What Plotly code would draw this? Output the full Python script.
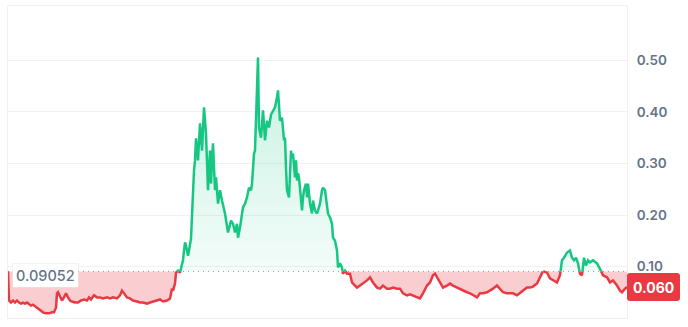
import plotly.graph_objects as go

# ---- data ----
days = [0, 1, 3, 5, 7, 9, 11, 13, 15, 17, 19, 21, 23, 25, 27, 29, 31, 33, 35, 38, 41, 44, 46, 48, 49, 50,
        52, 54, 56, 58, 60, 62, 64, 67, 70, 73, 76, 79, 81, 83, 86, 89, 92, 95, 99, 102, 105, 109, 112, 114,
        116, 119, 122, 125, 129, 132, 135, 139, 142, 145, 149, 152, 155, 159, 162, 164, 165, 167, 168, 170,
        172, 173, 175, 176, 177, 178, 179, 180, 181, 182, 183, 184, 185, 186, 187, 188, 190, 191, 192, 194,
        196, 198, 200, 202, 203, 204, 205, 207, 208, 210, 212, 214, 217, 220, 223, 225, 227, 229, 230, 232,
        235, 237, 239, 241, 243, 244, 246, 247, 248, 250, 251, 253, 255, 257, 259, 261, 263, 265, 267, 269,
        270, 272, 274, 276, 277, 278, 279, 281, 283, 284, 285, 287, 288, 289, 290, 291, 292, 294, 295, 296,
        298, 299, 300, 302, 304, 305, 307, 309, 310, 312, 314, 315, 317, 319, 320, 322, 324, 325, 327, 329,
        330, 332, 334, 335, 337, 339, 342, 344, 347, 349, 352, 355, 359, 362, 365, 369, 372, 375, 379, 382,
        385, 389, 392, 395, 399, 402, 405, 409, 412, 415, 419, 422, 425, 427, 429, 432, 435, 439, 442, 445,
        449, 452, 455, 459, 462, 465, 469, 472, 475, 479, 482, 485, 489, 492, 495, 499, 502, 505, 509, 512,
        515, 519, 522, 525, 529, 532, 535, 539, 542, 545, 549, 552, 554, 556, 559, 562, 564, 566, 568, 570,
        572, 574, 576, 578, 580, 582, 585, 589, 592, 595, 599, 602, 605, 609, 612, 614, 617, 619]
prices = [0.09052, 0.034, 0.030, 0.034, 0.030, 0.034, 0.030, 0.028, 0.030, 0.028, 0.030, 0.026, 0.024,
          0.026, 0.022, 0.020, 0.017, 0.013, 0.011, 0.009, 0.009, 0.011, 0.011, 0.020, 0.048, 0.050,
          0.040, 0.034, 0.040, 0.048, 0.040, 0.034, 0.032, 0.030, 0.030, 0.034, 0.036, 0.034, 0.040,
          0.036, 0.044, 0.040, 0.040, 0.038, 0.040, 0.038, 0.040, 0.038, 0.044, 0.053, 0.048, 0.040,
          0.038, 0.034, 0.032, 0.030, 0.030, 0.028, 0.030, 0.032, 0.034, 0.036, 0.032, 0.034, 0.038,
          0.057, 0.053, 0.067, 0.088, 0.092, 0.088, 0.096, 0.112, 0.131, 0.147, 0.141, 0.125, 0.121,
          0.131, 0.141, 0.154, 0.199, 0.257, 0.286, 0.306, 0.349, 0.306, 0.345, 0.378, 0.325, 0.409,
          0.358, 0.248, 0.325, 0.261, 0.306, 0.339, 0.248, 0.273, 0.222, 0.248, 0.228, 0.203, 0.166,
          0.189, 0.183, 0.166, 0.183, 0.156, 0.176, 0.215, 0.222, 0.234, 0.253, 0.248, 0.261, 0.319,
          0.325, 0.378, 0.506, 0.370, 0.350, 0.403, 0.345, 0.383, 0.370, 0.395, 0.403, 0.409, 0.428,
          0.442, 0.383, 0.389, 0.345, 0.350, 0.292, 0.248, 0.234, 0.325, 0.311, 0.319, 0.273, 0.306,
          0.267, 0.281, 0.273, 0.248, 0.209, 0.234, 0.248, 0.261, 0.234, 0.261, 0.222, 0.203, 0.228,
          0.209, 0.203, 0.209, 0.222, 0.248, 0.253, 0.248, 0.209, 0.203, 0.195, 0.183, 0.156, 0.150,
          0.131, 0.098, 0.106, 0.098, 0.086, 0.092, 0.086, 0.086, 0.069, 0.063, 0.059, 0.063, 0.067,
          0.073, 0.079, 0.069, 0.059, 0.057, 0.063, 0.057, 0.057, 0.059, 0.057, 0.057, 0.048, 0.044,
          0.046, 0.044, 0.040, 0.038, 0.048, 0.063, 0.069, 0.083, 0.086, 0.079, 0.067, 0.059, 0.063,
          0.067, 0.063, 0.059, 0.057, 0.053, 0.050, 0.048, 0.044, 0.040, 0.048, 0.048, 0.050, 0.053,
          0.057, 0.063, 0.057, 0.050, 0.048, 0.048, 0.048, 0.044, 0.048, 0.053, 0.059, 0.059, 0.061,
          0.067, 0.079, 0.091, 0.088, 0.077, 0.073, 0.069, 0.083, 0.112, 0.117, 0.127, 0.131, 0.117,
          0.112, 0.117, 0.106, 0.086, 0.083, 0.117, 0.102, 0.112, 0.108, 0.112, 0.106, 0.096, 0.083,
          0.079, 0.069, 0.073, 0.063, 0.053, 0.050, 0.057, 0.060]
base_price = 0.09052
base_text = "0.09052"
last_text = "0.060"
tick_vals = [0.1, 0.2, 0.3, 0.4, 0.5]
tick_text = ["0.10", "0.20", "0.30", "0.40", "0.50"]

GREEN = "#16c784"
RED = "#ea3943"

# insert baseline crossings so the colours switch exactly at the baseline
xd, yd = [days[0]], [prices[0]]
for i in range(1, len(days)):
    x0, y0, x1, y1 = days[i - 1], prices[i - 1], days[i], prices[i]
    if (y0 - base_price) * (y1 - base_price) < 0:
        t = (base_price - y0) / (y1 - y0)
        xd.append(x0 + t * (x1 - x0))
        yd.append(base_price)
    xd.append(x1)
    yd.append(y1)

up = [max(v, base_price) for v in yd]
dn = [min(v, base_price) for v in yd]
green_line = [v if v >= base_price else None for v in yd]
red_line = [v if v <= base_price else None for v in yd]
base_arr = [base_price] * len(xd)

fig = go.Figure()
fig.add_trace(go.Scatter(x=xd, y=base_arr, mode="lines", line=dict(width=0), hoverinfo="skip", showlegend=False))
fig.add_trace(go.Scatter(
    x=xd, y=up, mode="lines", line=dict(width=0), fill="tonexty",
    fillgradient=dict(type="vertical", start=base_price, stop=0.5,
                      colorscale=[[0, "rgba(22,199,132,0.05)"], [1, "rgba(22,199,132,0.24)"]]),
    hoverinfo="skip", showlegend=False))
fig.add_trace(go.Scatter(x=xd, y=base_arr, mode="lines", line=dict(width=0), hoverinfo="skip", showlegend=False))
fig.add_trace(go.Scatter(x=xd, y=dn, mode="lines", line=dict(width=0), fill="tonexty",
                         fillcolor="rgba(234,57,67,0.25)", hoverinfo="skip", showlegend=False))
fig.add_trace(go.Scatter(x=[days[0], days[-1]], y=[base_price, base_price], mode="lines",
                         line=dict(color="rgba(120,120,120,0.75)", width=1, dash="1px,4px"),
                         hoverinfo="skip", showlegend=False))
fig.add_trace(go.Scatter(x=xd, y=red_line, mode="lines", line=dict(color=RED, width=2.5),
                         connectgaps=False, showlegend=False))
fig.add_trace(go.Scatter(x=xd, y=green_line, mode="lines", line=dict(color=GREEN, width=2.5),
                         connectgaps=False, showlegend=False))

grid = "#f0f1f3"
fig.update_layout(
    width=688, height=327,
    margin=dict(l=8, r=61, t=6, b=9),
    paper_bgcolor="white", plot_bgcolor="white",
    showlegend=False,
    xaxis=dict(range=[days[0], days[-1]], showgrid=False, showticklabels=False, zeroline=False,
               showline=True, mirror=True, linecolor=grid, linewidth=1),
    yaxis=dict(side="right", range=[0, 0.6058], tickvals=tick_vals, ticktext=tick_text,
               showgrid=True, gridcolor=grid, zeroline=False,
               showline=True, mirror=True, linecolor=grid, linewidth=1,
               ticks="outside", ticklen=6, tickcolor="rgba(0,0,0,0)",
               tickfont=dict(family="Inter", size=13.5, color="#64748b", weight=600)),
    font=dict(family="Inter"),
)

# baseline label
fig.add_annotation(xref="paper", x=0, xanchor="left", xshift=4, yref="y", y=base_price, yanchor="middle",
                   yshift=-4, text=base_text, showarrow=False,
                   font=dict(family="Inter", size=14.5, color="#64748b", weight=500),
                   bgcolor="white", bordercolor="rgba(0,0,0,0.05)", borderwidth=1, borderpad=3)

# last price label with rounded box
fig.add_shape(type="path", xref="paper", yref="y", xsizemode="pixel", ysizemode="pixel",
              xanchor=1, yanchor=prices[-1],
              path="M 3,-14 L 50,-14 Q 53,-14 53,-11 L 53,11 Q 53,14 50,14 L 3,14 Q 0,14 0,11 "
                   "L 0,-11 Q 0,-14 3,-14 Z",
              fillcolor=RED, line=dict(width=0), layer="above")
fig.add_annotation(xref="paper", x=1, xanchor="center", xshift=26.5, yref="y", y=prices[-1],
                   yanchor="middle", text=last_text, showarrow=False,
                   font=dict(family="Inter", size=14, color="white", weight=700))

fig.write_html("out.html")
